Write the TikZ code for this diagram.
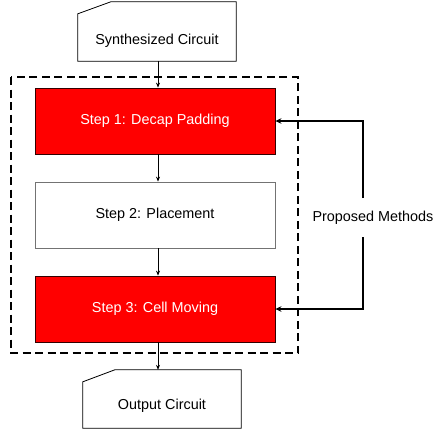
\documentclass[tikz,border=0pt]{standalone}
\usepackage{fontspec}
\setmainfont{Liberation Sans}
\usetikzlibrary{arrows.meta}
\begin{document}
\begin{tikzpicture}[x=1pt,y=-1pt,
  every node/.style={font=\fontsize{14.4}{17}\selectfont, inner sep=0pt},
  stepbox/.style={draw=black!85, line width=0.8pt, minimum width=240pt, minimum height=66pt},
  redbox/.style={stepbox, draw=black!80!red, fill=red, text=white},
  whitebox/.style={stepbox, draw=black!55, fill=white},
  card/.style={minimum width=158pt, minimum height=59pt, text depth=3.5pt},
  cardframe/.style={draw=black, line width=0.8pt, fill=white},
  flow/.style={draw=black, line width=0.7pt, -{Stealth[length=5pt,width=4pt]}},
  fb/.style={draw=black, line width=1.8pt, -{Stealth[length=6pt,width=5.5pt]}},
  dashbox/.style={draw=black, line width=2pt, dash pattern=on 8pt off 4.5pt}
]
\useasboundingbox (0,0) rectangle (435,432);
% coordinates
\coordinate (ax) at (158,0);
\coordinate (fbtop) at (363,198);
\coordinate (fbbot) at (363,237);

% input card
\node[card, text height=28.5pt] (in) at (157,31.5) {};
\path[cardframe] (in.south west) -- ([yshift=-12pt]in.north west) -- ([xshift=33pt]in.north west) -- (in.north east) -- (in.south east) -- cycle;
\node[card, text height=28.5pt] at (in.center) {Synthesized Circuit};

% dashed group
\draw[dashbox] (11,77) rectangle (298,353);

% steps
\node[redbox] (s1) at (155,121) {Step 1: Decap Padding};
\node[whitebox] (s2) at (155,215) {Step 2: Placement};
\node[redbox] (s3) at (155,309) {Step 3: Cell Moving};

% output card
\node[card, minimum height=58pt, text height=24.5pt] (out) at (162,399) {};
\path[cardframe] (out.south west) -- ([yshift=-12pt]out.north west) -- ([xshift=32pt]out.north west) -- (out.north east) -- (out.south east) -- cycle;
\node[card, minimum height=58pt, text height=24.5pt] at (out.center) {Output Circuit};

% flow arrows
\draw[flow] (in.south -| ax) -- (s1.north -| ax);
\draw[flow] (s1.south -| ax) -- (s2.north -| ax);
\draw[flow] (s2.south -| ax) -- (s3.north -| ax);
\draw[flow] (s3.south -| ax) -- (out.north -| ax);

% feedback
\node (pm) at (373,218) {Proposed Methods};
\draw[fb] (fbtop) |- (s1.east);
\draw[fb] (fbbot) |- (s3.east);
\end{tikzpicture}
\end{document}
